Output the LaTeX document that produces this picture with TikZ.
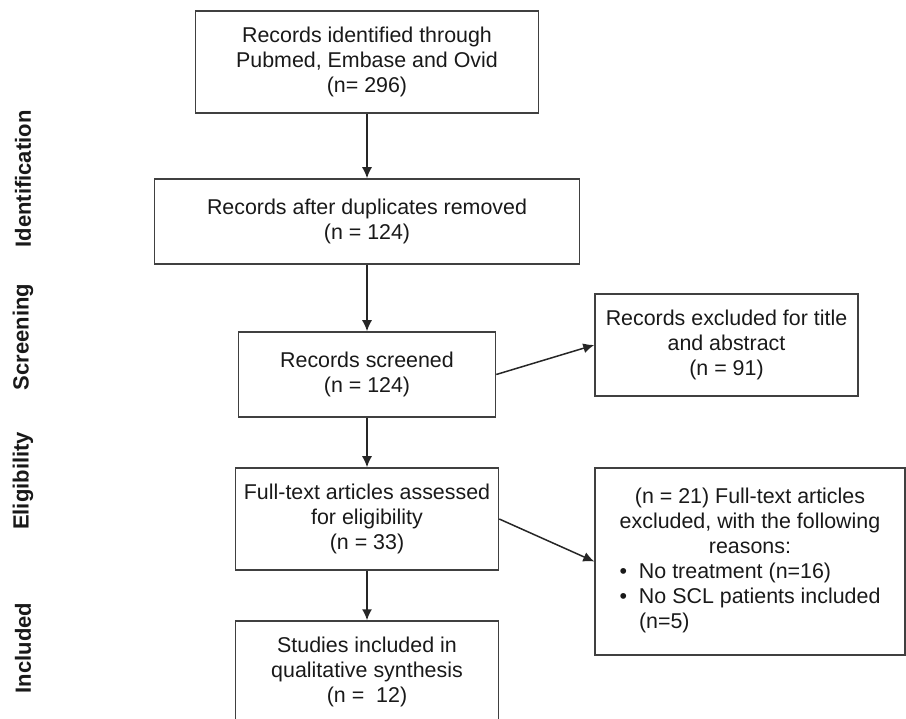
\documentclass[tikz,border=0pt]{standalone}
\usepackage{fontspec}
\setmainfont{Liberation Sans}
\usepackage{tikz}
\usetikzlibrary{shapes,arrows.meta}

\begin{document}
\begin{tikzpicture}[x=1pt, y=-1pt, >={Latex[length=11pt,width=10pt]},
  box/.style={shape=rectangle, draw=black!75, line width=1.5pt, inner sep=0pt,
    align=center, text=black!90, font=\fontsize{21.4}{25}\selectfont},
  phase/.style={rotate=90, text=black!90, font=\fontsize{22}{26}\selectfont\bfseries},
  link/.style={->, line width=1.5pt, draw=black!85}]
\useasboundingbox (0,0) rectangle (906,719);
\clip (0,0) rectangle (906,719);

\node (ident) at (367,62) [box, minimum width=343, minimum height=102]
  {Records identified through\\Pubmed, Embase and Ovid\\(n= 296)};
\node (dupl) at (367,221.5) [box, minimum width=425, minimum height=85]
  {Records after duplicates removed\\(n = 124)};
\node (screen) at (367,374.5) [box, minimum width=257, minimum height=85]
  {Records screened\\(n = 124)};
\node (elig) at (367,519) [box, minimum width=263, minimum height=102]
  {Full-text articles assessed\\for eligibility\\(n = 33)};
\node (incl) at (367,671.5) [box, minimum width=263, minimum height=101]
  {Studies included in\\qualitative synthesis\\(n =\ \ 12)};

\node (exclA) at (726.5,345) [box, minimum width=263, minimum height=102]
  {Records excluded for title\\and abstract\\(n = 91)};
\node (exclB) at (750,561.5) [box, minimum width=310, minimum height=187]
  {(n = 21) Full-text articles\\excluded, with the following\\reasons:\\
   \begin{tabular}[t]{@{}l@{\hspace{12pt}}l@{}}
   \textbullet & No treatment (n=16)\\
   \textbullet & No SCL patients included\\
               & (n=5)
   \end{tabular}};

\node (pid) at (23,179) [phase] {Identification};
\node (pscr) at (23,337) [phase] {Screening};
\node (pelig) at (23,481) [phase] {Eligibility};
\node (pincl) at (23,648) [phase] {Included};

\draw [link] (ident) -- (dupl);
\draw [link] (dupl) -- (screen);
\draw [link] (screen) -- (elig);
\draw [link] (elig) -- (incl);
\draw [link] (screen.east) -- (exclA.west);
\draw [link] (elig.east) -- (exclB.west);
\end{tikzpicture}
\end{document}
